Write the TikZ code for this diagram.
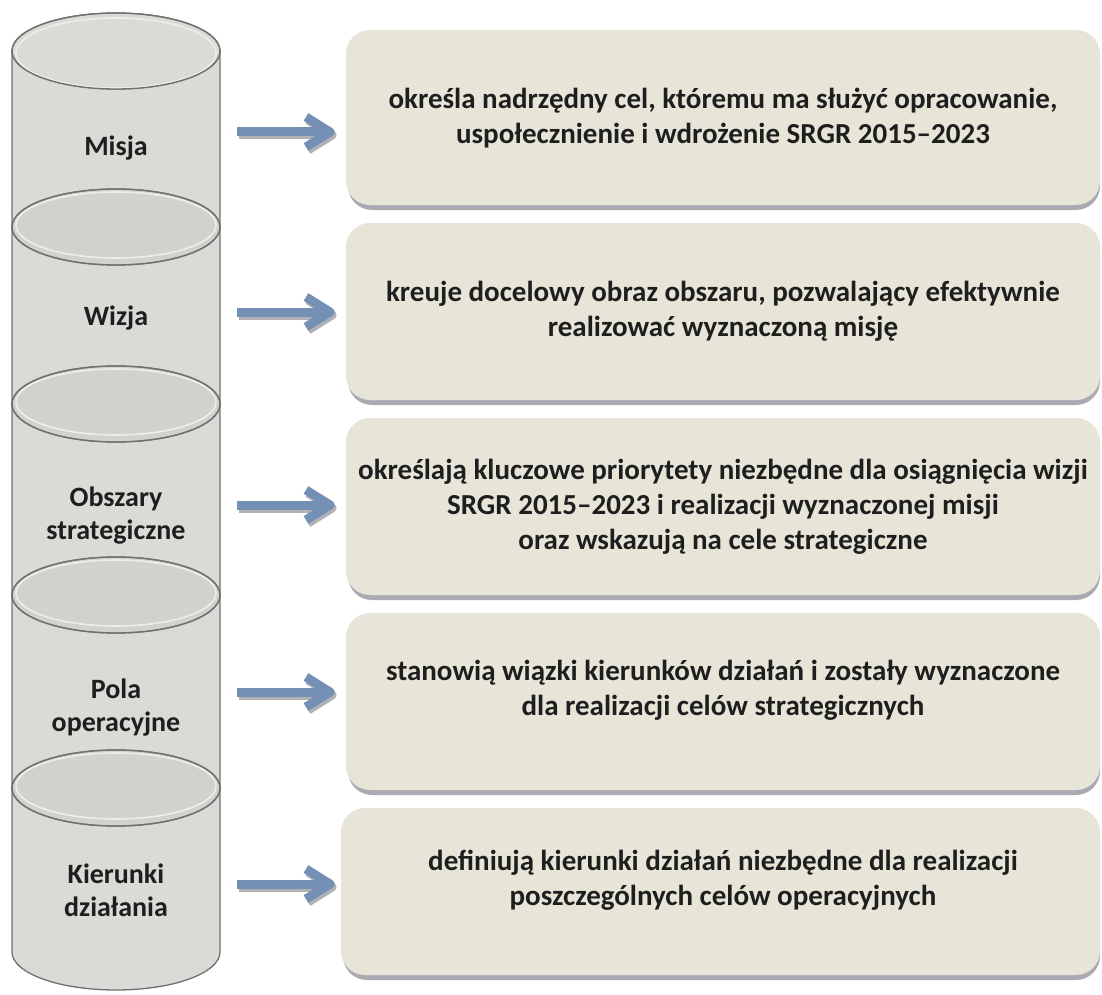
\documentclass[tikz,border=0pt]{standalone}
\usepackage{fontspec}
\setmainfont{Carlito}
\definecolor{cylfill}{RGB}{218,218,215}
\definecolor{cyltop}{RGB}{209,209,205}
\definecolor{cyledge}{RGB}{112,112,112}
\definecolor{cylrim}{RGB}{238,238,230}
\definecolor{boxfill}{RGB}{231,228,216}
\definecolor{boxshadow}{RGB}{170,170,178}
\definecolor{arrowblue}{RGB}{116,144,181}
\definecolor{arrowshadow}{RGB}{178,178,182}
\definecolor{txt}{RGB}{30,30,30}
\begin{document}
\begin{tikzpicture}[x=1pt,y=-1pt,
  cylbody/.style={fill=cylfill,draw=cyledge,line width=1.3pt},
  cyllid/.style={fill=cyltop,draw=cyledge,line width=1.3pt},
  cylrimline/.style={draw=cylrim,line width=1.6pt},
  infobox/.style={fill=boxfill,rounded corners=24pt},
  infoshadow/.style={fill=boxshadow,rounded corners=24pt},
  boxtext/.style={font=\bfseries\fontsize{29}{35}\selectfont,align=center,text=txt},
  cyltext/.style={font=\bfseries\fontsize{28}{33}\selectfont,align=center,text=txt},
  flowarrow/.style={draw=arrowblue,line width=9pt,line join=round},
  flowshadow/.style={draw=arrowshadow,line width=9pt,line join=round}
]
\useasboundingbox (0,0) rectangle (1102,995);

% ---------- cylinders ----------
\foreach \t/\b [count=\k] in {51/227,227/404,404/595,595/788,788/952}{
  \path[cylbody] (12,\t) -- (12,\b) arc[start angle=180,end angle=0,x radius=104,y radius=38] -- (220,\t) -- cycle;
  \ifnum\k=1
    \path[cylbody] (116,\t) ellipse [x radius=104,y radius=38];
    \draw[cylrimline] (116,\t+2) ellipse [x radius=100,y radius=35];
    \draw[cyledge,line width=1.3pt] (116,\t) ellipse [x radius=104,y radius=38];
  \else
    \path[cyllid] (116,\t) ellipse [x radius=104,y radius=38];
    \draw[cylrimline] (116,\t-2) ellipse [x radius=100,y radius=33];
    \draw[cyledge,line width=1.3pt] (116,\t) ellipse [x radius=104,y radius=38];
  \fi
}

\node[cyltext] (c1) at (116,148) {Misja};
\node[cyltext] (c2) at (116,318) {Wizja};
\node[cyltext] (c3) at (116,516) {Obszary\\strategiczne};
\node[cyltext] (c4) at (116,708) {Pola\\operacyjne};
\node[cyltext] (c5) at (116,890) {Kierunki\\działania};

% ---------- boxes ----------
\foreach \x/\ya/\yb in {346/30/205,346/223/400,346/418/595,346/613/790,341/808/975}{
  \path[infoshadow] (\x+2,\ya+5) rectangle (1100,\yb+5);
  \path[infobox] (\x,\ya) rectangle (1100,\yb);
}

\node[boxtext] (b1) at (723,118) {określa nadrzędny cel, któremu ma służyć opracowanie,\\uspołecznienie i wdrożenie SRGR 2015–2023};
\node[boxtext] (b2) at (723,311) {kreuje docelowy obraz obszaru, pozwalający efektywnie\\realizować wyznaczoną misję};
\node[boxtext] (b3) at (723,507) {określają kluczowe priorytety niezbędne dla osiągnięcia wizji\\SRGR 2015–2023 i realizacji wyznaczonej misji\\oraz wskazują na cele strategiczne};
\node[boxtext] (b4) at (723,690) {stanowią wiązki kierunków działań i zostały wyznaczone\\dla realizacji celów strategicznych};
\node[boxtext] (b5) at (723,880) {definiują kierunki działań niezbędne dla realizacji\\poszczególnych celów operacyjnych};

% ---------- arrows ----------
\foreach \y [count=\k] in {132,312,505,692,884}{
  \coordinate (s\k) at (237,\y);
  \coordinate (e\k) at (330,\y);
  \coordinate (u\k) at (306,\y-15);
  \coordinate (d\k) at (306,\y+15);
  \draw[flowshadow] ([shift={(2,3)}]s\k) -- ([shift={(2,3)}]e\k);
  \draw[flowshadow] ([shift={(2,3)}]u\k) -- ([shift={(2,3)}]e\k) -- ([shift={(2,3)}]d\k);
  \draw[flowarrow] (s\k) -- (e\k);
  \draw[flowarrow] (u\k) -- (e\k) -- (d\k);
}
\end{tikzpicture}
\end{document}
